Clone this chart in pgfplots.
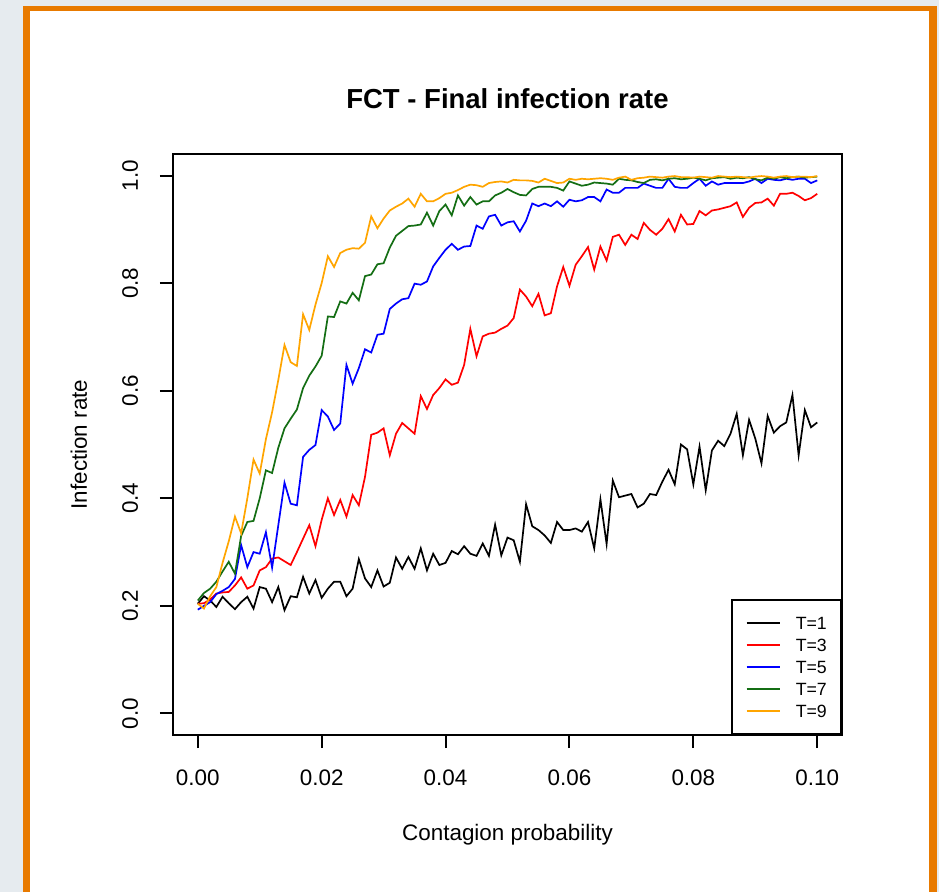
\documentclass[border=0pt]{standalone}
\usepackage{pgfplots}
\pgfplotsset{compat=1.18}
\usepackage{pgfplotstable}
\usepackage{fontspec}
\setmainfont{Liberation Sans}
\definecolor{rorange}{RGB}{255,165,0}
\definecolor{rgreen}{RGB}{20,110,20}
\definecolor{frameorange}{RGB}{232,122,0}
\definecolor{bggray}{RGB}{230,235,239}

\pgfplotstableread{
p t1 t3 t5 t7 t9
0.000 0.204 0.204 0.193 0.210 0.204
0.001 0.218 0.205 0.200 0.224 0.195
0.002 0.210 0.212 0.207 0.232 0.218
0.003 0.198 0.223 0.222 0.245 0.235
0.004 0.217 0.225 0.228 0.264 0.280
0.005 0.205 0.226 0.235 0.282 0.320
0.006 0.194 0.238 0.250 0.260 0.366
0.007 0.207 0.253 0.313 0.330 0.335
0.008 0.217 0.232 0.272 0.356 0.400
0.009 0.195 0.238 0.300 0.358 0.472
0.010 0.235 0.266 0.297 0.400 0.446
0.011 0.232 0.272 0.337 0.452 0.510
0.012 0.207 0.288 0.271 0.447 0.560
0.013 0.235 0.290 0.350 0.494 0.620
0.014 0.192 0.283 0.429 0.530 0.685
0.015 0.218 0.276 0.390 0.548 0.653
0.016 0.216 0.300 0.387 0.565 0.646
0.017 0.254 0.325 0.477 0.605 0.742
0.018 0.223 0.350 0.490 0.628 0.713
0.019 0.248 0.311 0.499 0.645 0.760
0.020 0.215 0.360 0.564 0.665 0.800
0.021 0.232 0.400 0.552 0.738 0.850
0.022 0.245 0.369 0.527 0.737 0.830
0.023 0.245 0.397 0.539 0.766 0.856
0.024 0.218 0.366 0.648 0.762 0.862
0.025 0.232 0.406 0.613 0.782 0.865
0.026 0.287 0.387 0.642 0.768 0.864
0.027 0.251 0.440 0.677 0.813 0.875
0.028 0.235 0.518 0.671 0.816 0.924
0.029 0.266 0.522 0.704 0.835 0.902
0.030 0.236 0.530 0.706 0.837 0.920
0.031 0.243 0.480 0.752 0.866 0.935
0.032 0.290 0.520 0.762 0.888 0.942
0.033 0.269 0.540 0.770 0.897 0.948
0.034 0.291 0.530 0.772 0.906 0.957
0.035 0.269 0.520 0.799 0.907 0.942
0.036 0.307 0.590 0.797 0.909 0.966
0.037 0.266 0.566 0.803 0.931 0.952
0.038 0.297 0.592 0.831 0.907 0.952
0.039 0.276 0.605 0.847 0.934 0.958
0.040 0.280 0.621 0.862 0.946 0.966
0.041 0.302 0.611 0.873 0.926 0.968
0.042 0.296 0.615 0.862 0.963 0.973
0.043 0.311 0.648 0.868 0.944 0.979
0.044 0.297 0.715 0.869 0.960 0.983
0.045 0.293 0.664 0.907 0.946 0.982
0.046 0.316 0.701 0.901 0.952 0.979
0.047 0.293 0.706 0.924 0.952 0.986
0.048 0.351 0.708 0.927 0.963 0.988
0.049 0.294 0.715 0.907 0.968 0.989
0.050 0.327 0.721 0.913 0.975 0.987
0.051 0.322 0.735 0.915 0.969 0.992
0.052 0.282 0.788 0.896 0.964 0.991
0.053 0.389 0.775 0.916 0.963 0.991
0.054 0.348 0.757 0.948 0.975 0.990
0.055 0.341 0.780 0.943 0.979 0.987
0.056 0.331 0.740 0.948 0.979 0.994
0.057 0.317 0.744 0.943 0.979 0.990
0.058 0.356 0.794 0.952 0.977 0.986
0.059 0.341 0.830 0.942 0.972 0.987
0.060 0.341 0.795 0.955 0.989 0.994
0.061 0.344 0.834 0.952 0.985 0.992
0.062 0.338 0.850 0.954 0.981 0.994
0.063 0.356 0.867 0.960 0.983 0.993
0.064 0.307 0.825 0.960 0.987 0.994
0.065 0.398 0.868 0.952 0.986 0.995
0.066 0.315 0.842 0.974 0.985 0.994
0.067 0.433 0.886 0.968 0.983 0.992
0.068 0.402 0.890 0.968 0.994 0.996
0.069 0.405 0.871 0.977 0.992 0.998
0.070 0.408 0.890 0.977 0.991 0.992
0.071 0.383 0.882 0.977 0.988 0.995
0.072 0.390 0.912 0.985 0.986 0.996
0.073 0.408 0.899 0.981 0.992 0.998
0.074 0.406 0.890 0.977 0.993 0.997
0.075 0.431 0.901 0.977 0.991 0.996
0.076 0.453 0.919 0.994 0.994 0.998
0.077 0.426 0.896 0.979 0.995 0.999
0.078 0.500 0.927 0.977 0.993 0.997
0.079 0.491 0.909 0.977 0.994 0.997
0.080 0.426 0.910 0.986 0.996 0.996
0.081 0.496 0.934 0.994 0.994 0.998
0.082 0.415 0.926 0.981 0.991 0.997
0.083 0.489 0.935 0.989 0.995 0.996
0.084 0.507 0.937 0.983 0.996 0.999
0.085 0.497 0.940 0.986 0.997 0.998
0.086 0.520 0.943 0.986 0.994 0.997
0.087 0.557 0.950 0.986 0.996 0.998
0.088 0.480 0.923 0.986 0.995 0.997
0.089 0.546 0.940 0.989 0.997 0.996
0.090 0.511 0.949 0.994 0.993 0.998
0.091 0.465 0.950 0.986 0.991 0.999
0.092 0.553 0.957 0.994 0.996 0.998
0.093 0.522 0.944 0.992 0.994 0.996
0.094 0.534 0.966 0.991 0.997 0.998
0.095 0.541 0.966 0.994 0.995 0.999
0.096 0.592 0.968 0.992 0.997 0.997
0.097 0.480 0.962 0.994 0.998 0.998
0.098 0.564 0.954 0.994 0.996 0.998
0.099 0.532 0.958 0.986 0.997 0.997
0.100 0.541 0.966 0.991 0.998 0.999
}\datatable

\begin{document}
\begin{tikzpicture}
% background and orange frame
\fill[bggray] (0bp,0bp) rectangle (469.5bp,-446bp);
\fill[white] (15bp,-5.5bp) rectangle (464.5bp,-446bp);
\fill[frameorange] (11.5bp,-3bp) rectangle (15bp,-446bp);
\fill[frameorange] (11.5bp,-3bp) rectangle (468.5bp,-5.5bp);
\fill[frameorange] (464.5bp,-3bp) rectangle (468.5bp,-446bp);
\begin{axis}[
  at={(86.5bp,-367.5bp)}, anchor=south west,
  scale only axis, width=334.5bp, height=290.5bp,
  xmin=-0.004, xmax=0.104, ymin=-0.04, ymax=1.04,
  axis line style={line width=1bp},
  tick pos=left, tick align=outside,
  major tick length=6.5bp,
  every tick/.style={black, line width=1bp},
  xtick={0,0.02,0.04,0.06,0.08,0.1},
  ytick={0,0.2,0.4,0.6,0.8,1},
  /pgf/number format/assume math mode=true,
  tick label style={font=\fontsize{11.25}{13}\selectfont},
  xticklabel style={/pgf/number format/fixed, /pgf/number format/fixed zerofill, /pgf/number format/precision=2, anchor=base, yshift=-18.85bp},
  yticklabel style={/pgf/number format/fixed, /pgf/number format/fixed zerofill, /pgf/number format/precision=1, xshift=-11bp, rotate=90, anchor=base},
  title={FCT - Final infection rate},
  title style={at={([yshift=17bp]axis description cs:0.5,1)}, anchor=base, font=\fontsize{13.8}{16}\selectfont\bfseries},
  xlabel={Contagion probability},
  xlabel style={at={([yshift=-52.75bp]axis description cs:0.5,0)}, anchor=base, font=\fontsize{11.25}{13}\selectfont},
  ylabel={Infection rate},
  ylabel style={at={([xshift=-43bp]axis description cs:0,0.5)}, rotate=0, anchor=base, font=\fontsize{11.25}{13}\selectfont},
  legend style={at={(axis description cs:1,0)}, anchor=south east, draw=black, line width=1bp, fill=white,
    font=\fontsize{8.9}{10}\selectfont, inner xsep=7.1bp, inner ysep=8.3bp, row sep=4.6bp, column sep=7.35bp,
    nodes={inner sep=0bp, text height=6.4bp, text depth=0bp}, cells={anchor=center}},
  legend cell align=left,
  legend image code/.code={\draw[#1, line width=0.85bp] (0bp,0bp) -- (16.8bp,0bp);},
]
\addplot[black, line width=0.85bp] table[x=p, y=t1] {\datatable};
\addplot[red, line width=0.85bp] table[x=p, y=t3] {\datatable};
\addplot[blue, line width=0.85bp] table[x=p, y=t5] {\datatable};
\addplot[rgreen, line width=0.85bp] table[x=p, y=t7] {\datatable};
\addplot[rorange, line width=0.85bp] table[x=p, y=t9] {\datatable};
\legend{T=1,T=3,T=5,T=7,T=9}
\end{axis}
\end{tikzpicture}
\end{document}
